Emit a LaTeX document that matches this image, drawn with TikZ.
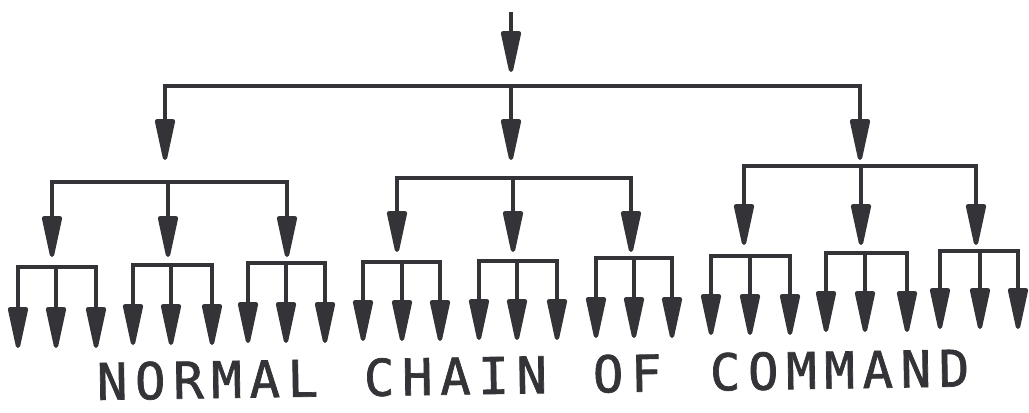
\documentclass[tikz,border=0pt]{standalone}
\usepackage{fontspec}
\newfontfamily\schrift[LetterSpace=15.2,FakeBold=1.4]{DejaVu Sans Mono}
\usetikzlibrary{arrows.meta}
\definecolor{tinte}{RGB}{52,52,56}

\begin{document}
\begin{tikzpicture}[x=0.25mm,y=-0.25mm,>={Triangle[length=12.5mm,width=5mm,round]},
  color=tinte,line width=1.1mm,
  wort/.style={anchor=base west,inner sep=0pt,text depth=0pt,rotate=0.9,
    font=\schrift\fontsize{36pt}{36pt}\selectfont}]
\useasboundingbox (0,0) rectangle (1029,413);

% #1 name, #2 #3 #4 x of the three arrows, #5 y of the bar, #6 y of the tips
\def\gabel#1#2#3#4#5#6{
	\coordinate (#1m) at (#3,#5);
	\coordinate (#1l) at (#2,#6);
	\coordinate (#1t) at (#3,#6);
	\coordinate (#1r) at (#4,#6);
	\draw[->] (#1m) -| (#1l);
	\draw[->] (#1m) -- (#1t);
	\draw[->] (#1m) -| (#1r);
}

\coordinate (oben) at (511,12);
\coordinate (obent) at (511,72);
\draw[->] (oben) -- (obent);

\gabel{s}{165}{511}{860}{86}{160}

\gabel{a}{52}{168}{287}{182}{257}
\gabel{b}{397}{513}{631}{178}{252}
\gabel{c}{744}{861}{976}{166}{245}

\gabel{aa}{18}{56}{96}{267}{348}
\gabel{ab}{133}{171}{212}{265}{345}
\gabel{ac}{248}{286}{325}{263}{343}
\gabel{ba}{363}{402}{440}{262}{341}
\gabel{bb}{479}{517}{557}{261}{340}
\gabel{bc}{596}{634}{672}{258}{338}
\gabel{ca}{711}{750}{790}{256}{335}
\gabel{cb}{826}{865}{907}{253}{332}
\gabel{cc}{940}{980}{1018}{251}{329}

\node[wort] (w1) at (95,400) {NORMAL};
\node[wort] (w2) at (362,396) {CHAIN};
\node[wort] (w3) at (591,392.5) {OF};
\node[wort] (w4) at (708,390.5) {COMMAND};

\end{tikzpicture}
\end{document}
